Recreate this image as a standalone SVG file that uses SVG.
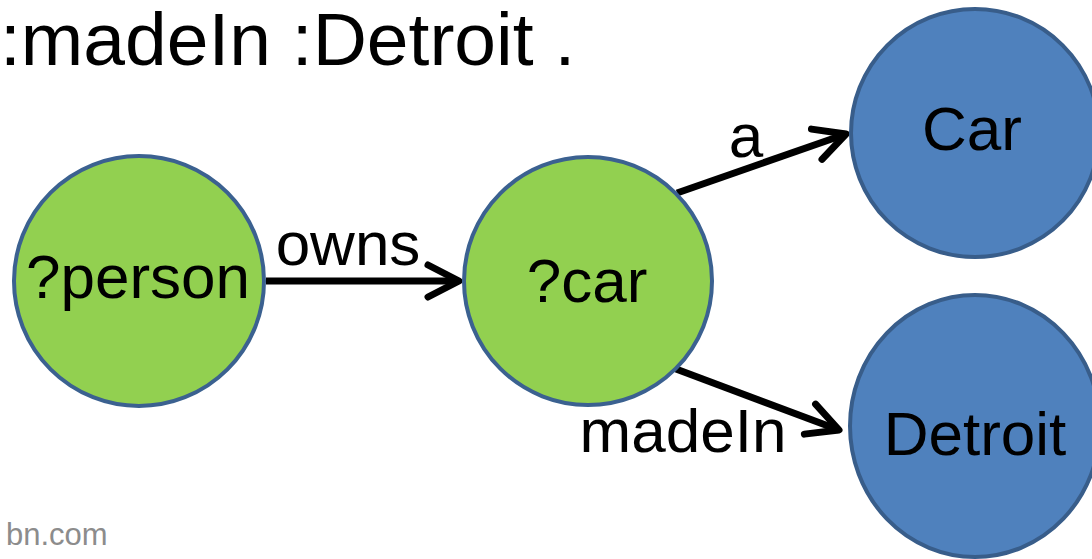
<svg xmlns="http://www.w3.org/2000/svg" width="1092" height="559" viewBox="0 0 1092 559">
  <defs>
    <style>
      .txt { font-family: "Liberation Sans", Arial, sans-serif; fill: #000; }
      .lbl { font-size: 62px; text-anchor: middle; }
      .var { fill: #92D050; stroke: #3B6190; stroke-width: 4; }
      .res { fill: #4F81BD; stroke: #385D8A; stroke-width: 4; }
      .edge { stroke: #000; stroke-width: 7; fill: none; marker-end: url(#chev); }
    </style>
    <marker id="chev" markerUnits="userSpaceOnUse" markerWidth="50" markerHeight="50" refX="0" refY="0" orient="auto" overflow="visible">
      <path d="M-31,-16 L0,0 L-31,16" fill="none" stroke="#000" stroke-width="7" stroke-linecap="round" stroke-linejoin="round"/>
    </marker>
  </defs>

  <rect width="1092" height="559" fill="#fff"/>

  <!-- heading line of the triple pattern -->
  <text class="txt" x="0" y="65" font-size="75">:madeIn :Detroit .</text>

  <!-- connectors -->
  <g id="connectors">
    <path class="edge" d="M266,281 L459,281"/>
    <path class="edge" d="M677,193 L846,134"/>
    <path class="edge" d="M676,369 L839,430"/>
    <text class="txt lbl" x="348" y="265">owns</text>
    <text class="txt lbl" x="746" y="157">a</text>
    <text class="txt lbl" x="683" y="452">madeIn</text>
  </g>

  <!-- nodes -->
  <g id="node-person">
    <circle class="var" cx="139" cy="281" r="125"/>
    <text class="txt lbl" x="138" y="298">?person</text>
  </g>
  <g id="node-car-var">
    <circle class="var" cx="588" cy="281" r="124"/>
    <text class="txt lbl" x="587" y="302">?car</text>
  </g>
  <g id="node-Car">
    <circle class="res" cx="975" cy="133" r="124"/>
    <text class="txt lbl" x="972" y="150">Car</text>
  </g>
  <g id="node-Detroit">
    <ellipse class="res" cx="975" cy="426" rx="125" ry="131"/>
    <text class="txt lbl" x="975" y="455">Detroit</text>
  </g>

  <!-- footer credit -->
  <text x="6" y="545" font-family="Liberation Sans, Arial, sans-serif" font-size="31" fill="#8C8C8C">bn.com</text>
</svg>
